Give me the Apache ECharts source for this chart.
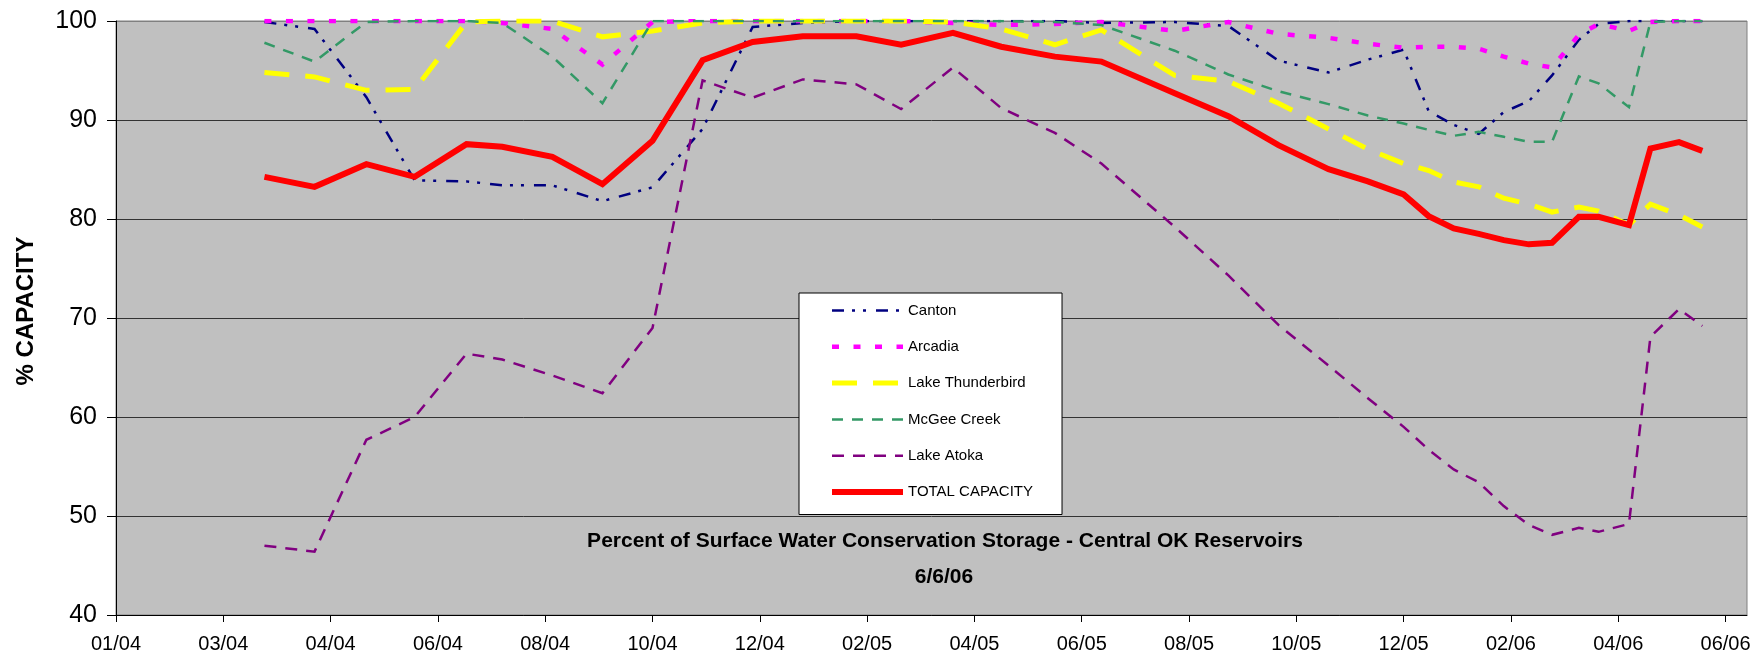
<!DOCTYPE html>
<html>
<head>
<meta charset="utf-8">
<title>Central OK Reservoirs</title>
<script src="https://cdn.jsdelivr.net/npm/echarts@6.0.0/dist/echarts.min.js"></script>
<style>
html, body { margin: 0; padding: 0; background: #fff; }
#chart { width: 1754px; height: 661px; }
</style>
</head>
<body>
<div id="chart"></div>
<script>
// sample dates
var dates = ['2004-03-24', '2004-04-21', '2004-05-20', '2004-06-16', '2004-07-15', '2004-08-04',
    '2004-09-01', '2004-09-29', '2004-10-27', '2004-11-24', '2004-12-22', '2005-01-19',
    '2005-02-18', '2005-03-15', '2005-04-13', '2005-05-10', '2005-06-09', '2005-07-05',
    '2005-08-15', '2005-09-14', '2005-10-12', '2005-11-09', '2005-12-01', '2005-12-21',
    '2006-01-04', '2006-01-18', '2006-02-01', '2006-02-15', '2006-03-01', '2006-03-14',
    '2006-03-29', '2006-04-09', '2006-04-26', '2006-05-08', '2006-05-24', '2006-06-06'];

var canton = [99.9, 99.2, 92.3, 83.9, 83.8, 83.4, 83.4, 81.8, 83.2, 89.1, 99.4, 99.8,
    100, 100, 100, 100, 100, 99.8, 99.9, 99.5, 96.0, 94.8, 96.1, 97.1,
    90.9, 89.5, 88.6, 90.8, 91.9, 94.5, 98.1, 99.7, 100, 100, 100, 100];
var arcadia = [100, 100, 100, 100, 100, 99.8, 99.2, 95.6, 99.9, 100, 100, 100,
    100, 100, 99.8, 99.6, 99.7, 99.9, 99.0, 99.9, 98.7, 98.3, 97.7, 97.3,
    97.4, 97.4, 97.2, 96.4, 95.7, 95.3, 98.6, 99.7, 99.0, 99.9, 100, 100];
var thunderbird = [94.8, 94.35, 93.0, 93.1, 99.9, 100, 100, 98.4, 99.0, 99.8, 100, 100,
    100, 100, 99.9, 99.2, 97.6, 99.1, 94.5, 93.9, 91.7, 89.1, 87.05, 85.6,
    84.9, 83.75, 83.25, 82.1, 81.5, 80.7, 81.2, 80.8, 79.4, 81.5, 80.4, 79.2];
var mcgee = [97.8, 95.9, 99.9, 100, 100, 99.8, 96.4, 91.7, 100, 100, 100, 100,
    100, 100, 100, 100, 99.9, 99.6, 97.0, 94.6, 92.9, 91.6, 90.45, 89.65,
    89.0, 88.4, 88.8, 88.3, 87.8, 87.8, 94.4, 93.7, 91.3, 99.9, 100, 100];
var atoka = [47.0, 46.4, 57.7, 60.0, 66.4, 65.8, 64.2, 62.4, 69.0, 94.0, 92.25, 94.1,
    93.6, 91.1, 95.3, 91.2, 88.7, 85.6, 79.2, 74.3, 69.3, 65.2, 61.9, 59.0,
    56.7, 54.7, 53.4, 51.0, 49.1, 48.1, 48.8, 48.4, 49.2, 68.1, 70.9, 69.2];
var total = [84.26, 83.25, 85.54, 84.26, 87.56, 87.29, 86.28, 83.52, 87.89, 96.03, 97.88, 98.46,
    98.46, 97.6, 98.8, 97.4, 96.4, 95.9, 92.7, 90.38, 87.46, 85.04, 83.8, 82.48,
    80.29, 79.05, 78.5, 77.87, 77.44, 77.6, 80.22, 80.22, 79.38, 87.12, 87.76, 86.88];

var axisStart = '2004-01-01';
var axisEnd = '2006-07-01';

var DAY = 86400000;
var FONT = 'Arial, "Liberation Sans", sans-serif';

function dayNum(s) {
    var p = s.split('-');
    var q = axisStart.split('-');
    return Math.round((Date.UTC(+p[0], p[1] - 1, +p[2]) - Date.UTC(+q[0], q[1] - 1, +q[2])) / DAY);
}

// tick label every 60 days, shown as MM/YY
function dayLabel(d) {
    if (d % 60 !== 0) return '';
    var q = axisStart.split('-');
    var t = new Date(Date.UTC(+q[0], q[1] - 1, +q[2]) + d * DAY);
    var m = t.getUTCMonth() + 1;
    var y = t.getUTCFullYear() % 100;
    return (m < 10 ? '0' : '') + m + '/' + (y < 10 ? '0' : '') + y;
}

var days = dates.map(dayNum);

function makeSeries(name, values, color, width, dash) {
    return {
        name: name,
        type: 'line',
        symbol: 'none',
        animation: false,
        data: days.map(function (d, i) { return [d, values[i]]; }),
        itemStyle: { color: color },
        lineStyle: { color: color, width: width, type: dash, cap: 'butt', join: 'miter' },
        emphasis: { disabled: true }
    };
}

var myChart = echarts.init(document.getElementById('chart'));
var option = {
    backgroundColor: '#fff',
    animation: false,
    grid: {
        left: 116,
        right: 7,
        top: 21,
        bottom: 46,
        show: true,
        backgroundColor: '#C0C0C0',
        borderColor: '#808080',
        borderWidth: 1,
        outerBoundsMode: 'none'
    },
    legend: {
        orient: 'vertical',
        left: 799,
        top: 293,
        padding: [10, 29, 15, 30],
        backgroundColor: '#fff',
        borderColor: '#000',
        borderWidth: 1,
        itemWidth: 71,
        itemHeight: 15,
        itemGap: 21.3,
        itemStyle: { color: 'rgba(0,0,0,0)', borderColor: 'rgba(0,0,0,0)', borderWidth: 0 },
        lineStyle: { width: 'inherit', type: 'inherit', color: 'inherit' },
        textStyle: { fontSize: 15, lineHeight: 15, color: '#000', fontFamily: FONT },
        data: ['Canton', 'Arcadia', 'Lake Thunderbird', 'McGee Creek', 'Lake Atoka', 'TOTAL CAPACITY']
    },
    xAxis: {
        type: 'value',
        min: dayNum(axisStart),
        max: dayNum(axisEnd),
        interval: 60,
        axisLine: { show: true, lineStyle: { color: '#000', width: 1 } },
        axisTick: { show: true, length: 7, lineStyle: { color: '#000' } },
        axisLabel: {
            interval: 0,
            showMaxLabel: false,
            fontSize: 20,
            color: '#000',
            fontFamily: FONT,
            margin: 19,
            formatter: dayLabel
        },
        splitLine: { show: false }
    },
    yAxis: {
        type: 'value',
        min: 40,
        max: 100,
        interval: 10,
        axisLine: { show: true, lineStyle: { color: '#000', width: 1 } },
        axisTick: { show: true, length: 9, lineStyle: { color: '#000' } },
        axisLabel: { fontSize: 25, color: '#000', fontFamily: FONT, margin: 19 },
        splitLine: {
            show: true,
            lineStyle: { color: ['#333', '#333', '#333', '#333', '#333', '#333', '#808080'], width: 1 }
        }
    },
    graphic: [
        {
            type: 'text',
            x: 945,
            y: 541,
            style: {
                text: 'Percent of Surface Water Conservation Storage - Central OK Reservoirs',
                font: 'bold 21px ' + FONT,
                fill: '#000',
                align: 'center',
                verticalAlign: 'middle'
            }
        },
        {
            type: 'text',
            x: 944,
            y: 577,
            style: {
                text: '6/6/06',
                font: 'bold 21px ' + FONT,
                fill: '#000',
                align: 'center',
                verticalAlign: 'middle'
            }
        },
        {
            type: 'text',
            x: 26,
            y: 311,
            rotation: Math.PI / 2,
            style: {
                text: '% CAPACITY',
                font: 'bold 24px ' + FONT,
                fill: '#000',
                align: 'center',
                verticalAlign: 'middle'
            }
        }
    ],
    series: [
        makeSeries('Canton', canton, '#000080', 2.5, [12, 8, 3, 8, 3, 10]),
        makeSeries('Arcadia', arcadia, '#FF00FF', 4.5, [7, 14.5]),
        makeSeries('Lake Thunderbird', thunderbird, '#FFFF00', 5, [25, 16]),
        makeSeries('McGee Creek', mcgee, '#339966', 2.5, [11, 9]),
        makeSeries('Lake Atoka', atoka, '#800080', 2.5, [12, 9]),
        makeSeries('TOTAL CAPACITY', total, '#FF0000', 6, 'solid')
    ]
};
myChart.clear();
myChart.setOption(option);
</script>
</body>
</html>
